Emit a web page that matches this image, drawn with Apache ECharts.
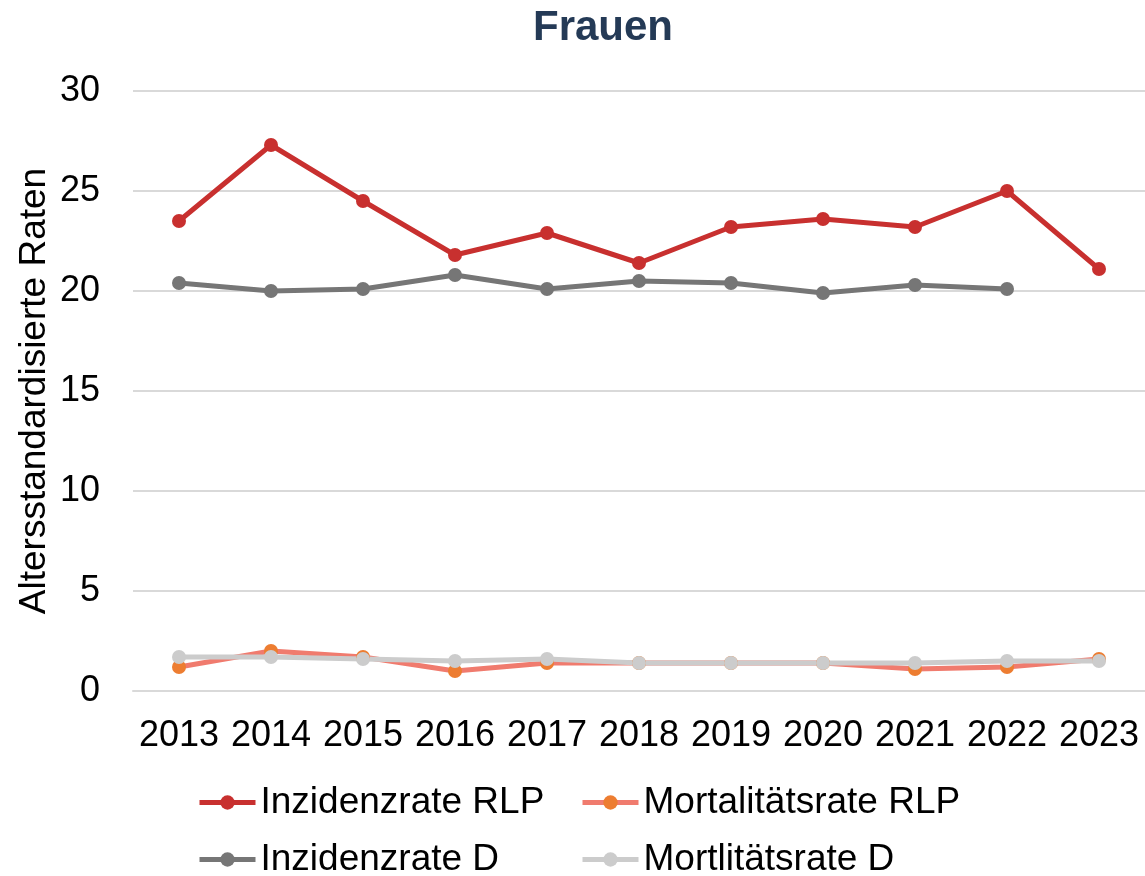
<!DOCTYPE html>
<html>
<head>
<meta charset="utf-8">
<script src="https://cdn.jsdelivr.net/npm/echarts@6/dist/echarts.min.js"></script>
<style>
	html, body { margin: 0; padding: 0; background: #fff; }
	#chart { width: 1145px; height: 876px; }
</style>
</head>
<body>
<div id="chart"></div>
<script>
	var years = ['2013', '2014', '2015', '2016', '2017', '2018', '2019', '2020', '2021', '2022', '2023'];
	var inzidenzRLP = [23.5, 27.3, 24.5, 21.8, 22.9, 21.4, 23.2, 23.6, 23.2, 25.0, 21.1];
	var mortalitaetRLP = [1.2, 2.0, 1.7, 1.0, 1.4, 1.4, 1.4, 1.4, 1.1, 1.2, 1.6];
	var inzidenzD = [20.4, 20.0, 20.1, 20.8, 20.1, 20.5, 20.4, 19.9, 20.3, 20.1, null];
	var mortalitaetD = [1.7, 1.7, 1.6, 1.5, 1.6, 1.4, 1.4, 1.4, 1.4, 1.5, 1.5];
	var yTicks = [0, 5, 10, 15, 20, 25, 30];

	var font = '"Liberation Sans", Arial, sans-serif';

	function line(name, data, lineColor, dotColor) {
		return {
			name: name,
			type: 'line',
			data: data,
			symbol: 'circle',
			symbolSize: 14,
			lineStyle: { color: lineColor, width: 5 },
			itemStyle: { color: dotColor },
			emphasis: { disabled: true },
			z: 2
		}
	}

	function legendAt(name, left, top) {
		return {
			data: [name],
			left: left,
			top: top,
			itemWidth: 56,
			itemHeight: 18,
			itemGap: 0,
			lineStyle: { width: 5 },
			textStyle: { fontFamily: font, fontSize: 37, color: '#000' }
		}
	}

	var chart = echarts.init(document.getElementById('chart'));
	chart.setOption({
		animation: false,
		title: {
			text: 'Frauen',
			left: 528,
			top: 2,
			textStyle: { fontFamily: font, fontSize: 42, fontWeight: 'bold', color: '#243a56' }
		},
		legend: [
			legendAt('Inzidenzrate RLP', 192, 779),
			legendAt('Mortalitätsrate RLP', 575, 779),
			legendAt('Inzidenzrate D', 192, 836),
			legendAt('Mortlitätsrate D', 575, 836)
		],
		grid: { left: 133, right: 0, top: 91, bottom: 185 },
		xAxis: {
			type: 'category',
			data: years,
			boundaryGap: true,
			axisLine: { show: true, lineStyle: { color: '#d9d9d9', width: 2 } },
			axisTick: { show: false },
			axisLabel: { interval: 0, hideOverlap: false, fontFamily: font, fontSize: 36, color: '#000', margin: 27 }
		},
		yAxis: {
			type: 'value',
			min: yTicks[0],
			max: yTicks[yTicks.length - 1],
			interval: 5,
			name: 'Altersstandardisierte Raten',
			nameLocation: 'middle',
			nameGap: 80,
			nameMoveOverlap: false,
			nameTextStyle: { fontFamily: font, fontSize: 37, color: '#000' },
			axisLine: { show: false },
			axisTick: { show: false },
			splitLine: { lineStyle: { color: '#d9d9d9', width: 2 } },
			axisLabel: { fontFamily: font, fontSize: 36, color: '#000', margin: 33 }
		},
		series: [
			line('Inzidenzrate RLP', inzidenzRLP, '#c8302f', '#c8302f'),
			line('Mortalitätsrate RLP', mortalitaetRLP, '#f07b6e', '#ed7d31'),
			line('Inzidenzrate D', inzidenzD, '#767676', '#767676'),
			line('Mortlitätsrate D', mortalitaetD, '#cccccc', '#cccccc')
		]
	})
</script>
</body>
</html>
